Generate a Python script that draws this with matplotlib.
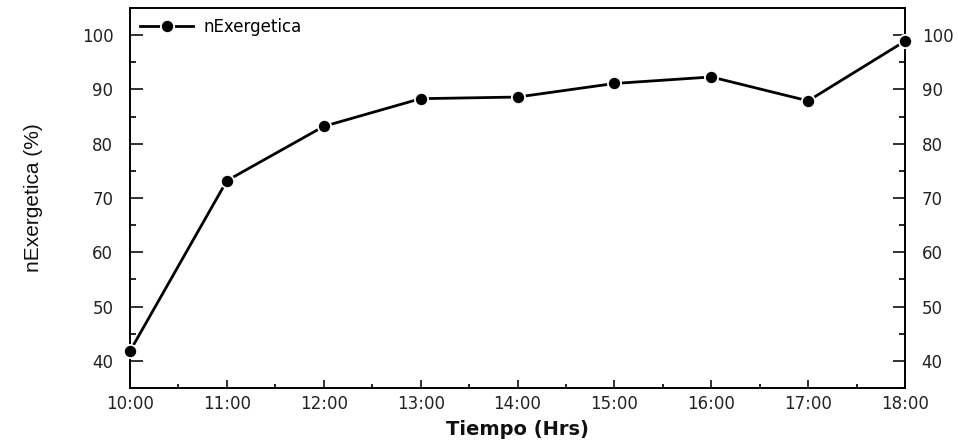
import matplotlib.pyplot as plt
from matplotlib.ticker import MultipleLocator

# data
hours = [10, 11, 12, 13, 14, 15, 16, 17, 18]
hour_labels = ["10:00", "11:00", "12:00", "13:00", "14:00", "15:00", "16:00", "17:00", "18:00"]
n_exergetica = [41.8, 73.2, 83.2, 88.3, 88.6, 91.1, 92.3, 87.9, 98.9]

plt.rcParams['font.family'] = ['DejaVu Sans']

fig = plt.figure(figsize=(9.58, 4.45), dpi=100)
ax = fig.add_axes([0.1357, 0.128, 0.809, 0.854])

ax.plot(hours, n_exergetica, '-', color='black', lw=2.0,
        marker='o', markersize=9.5, markerfacecolor='black',
        markeredgecolor='white', markeredgewidth=1.3,
        label='nExergetica', clip_on=False, zorder=3)

ax.set_xlim(10, 18)
ax.set_ylim(35, 105)
ax.set_xticks(hours)
ax.set_xticklabels(hour_labels)
ax.xaxis.set_minor_locator(MultipleLocator(0.5))
ax.yaxis.set_minor_locator(MultipleLocator(5))
ax.set_yticks(range(40, 101, 10))

ax.tick_params(axis='x', which='major', direction='in', length=6, width=1.3,
               labelsize=12, pad=5, colors='#222222')
ax.tick_params(axis='x', which='minor', direction='in', length=3, width=1.2)
ax.tick_params(axis='y', which='major', direction='in', length=9, width=1.3,
               labelsize=12, pad=12, left=True, right=True,
               labelleft=True, labelright=True, colors='#222222')
ax.tick_params(axis='y', which='minor', direction='in', length=4.5, width=1.2,
               left=True, right=True)

for s in ax.spines.values():
    s.set_linewidth(1.4)

ax.set_xlabel('Tiempo (Hrs)', fontsize=14, fontweight='bold', labelpad=5,
              color='#111111')
ax.set_ylabel('nExergetica (%)', fontsize=15, labelpad=28,
              family=['Liberation Sans', 'DejaVu Sans'], color='#111111')

ax.legend(loc='upper left', frameon=False, fontsize=12, handlelength=3.2,
          borderaxespad=0.2, handletextpad=0.6)

fig.savefig('out.png', dpi=100)
